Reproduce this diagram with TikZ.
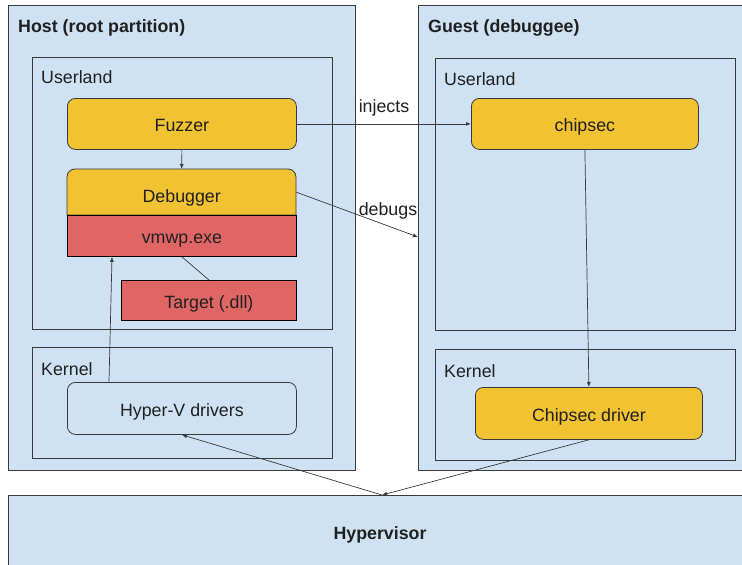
\documentclass[tikz,border=0pt]{standalone}
\usepackage{fontspec}
\setmainfont{Liberation Sans}
\usetikzlibrary{arrows.meta}
\definecolor{lb}{HTML}{CFE2F3}
\definecolor{yl}{HTML}{F1C232}
\definecolor{rd}{HTML}{E06666}
\definecolor{bd}{HTML}{3A3A3A}
\definecolor{tx}{HTML}{202020}
\begin{document}
\begin{tikzpicture}[x=1pt,y=-1pt,
  every node/.style={font=\fontsize{17.8}{21}\selectfont, text=tx, inner sep=0pt, text height=15.2pt, text depth=0pt},
  region/.style={draw=bd, fill=lb, line width=0.8pt, anchor=north west},
  ybox/.style={draw=bd, fill=yl, line width=0.8pt, rounded corners=8pt, anchor=north west},
  rbox/.style={draw=black, fill=rd, line width=0.8pt, anchor=north west},
  bbox/.style={draw=bd, fill=lb, line width=0.8pt, rounded corners=8pt, anchor=north west},
  lbl/.style={anchor=west},
  arr/.style={draw=bd, line width=0.7pt, -{Latex[length=5pt,width=4pt]}},
  conn/.style={draw=bd, line width=0.7pt}]
\useasboundingbox (0,0) rectangle (742,565);
\clip (0,0) rectangle (742,565);
\fill[white] (0,0) rectangle (742,565);
% host
\node[region, minimum width=347pt, minimum height=465pt] (host) at (8,5) {};
\node[lbl] (hostt) at (18,25) {\bfseries Host (root partition)};
\node[region, minimum width=300pt, minimum height=272pt] (hu) at (32,57) {};
\node[lbl] (hul) at (41,76) {Userland};
\node[region, minimum width=300pt, minimum height=111pt] (hk) at (32,347) {};
\node[lbl] (hkl) at (41,368) {Kernel};
% guest
\node[region, minimum width=340pt, minimum height=465pt] (guest) at (418,5) {};
\node[lbl] (guestt) at (428,25) {\bfseries Guest (debuggee)};
\node[region, minimum width=300pt, minimum height=272pt] (gu) at (435,58) {};
\node[lbl] (gul) at (444,78) {Userland};
\node[region, minimum width=300pt, minimum height=111pt] (gk) at (435,349) {};
\node[lbl] (gkl) at (444,370) {Kernel};
% hypervisor
\node[region, minimum width=744pt, minimum height=74pt] (hyp) at (8,495) {};
\node (hypt) at (380,532) {\bfseries Hypervisor};
% host boxes
\node[ybox, minimum width=229pt, minimum height=51pt] (fuzz) at (67,98) {Fuzzer};
\draw[draw=bd, fill=yl, line width=0.8pt] (67,215) [rounded corners=8pt]-- (67,169) -- (296,169) [sharp corners]-- (296,215) -- cycle;
\node[anchor=north west, minimum width=229pt, minimum height=46pt] (dbg) at (67,169) {};
\node (dbgt) at ([yshift=-2.5pt]dbg.center) {Debugger};
\node[rbox, minimum width=229pt, minimum height=41pt] (vmwp) at (67,215) {vmwp.exe};
\node[rbox, minimum width=175pt, minimum height=40pt] (tgt) at (121,280) {Target (.dll)};
\node[bbox, minimum width=229pt, minimum height=52pt] (hv) at (67,382) {Hyper-V drivers};
% guest boxes
\node[ybox, minimum width=227pt, minimum height=51pt] (chip) at (471,98) {chipsec};
\node[ybox, minimum width=227pt, minimum height=52pt] (drv) at (475,387) {Chipsec driver};
% connectors
\coordinate (dbgend) at (418,237);
\coordinate (hpt) at (382,495);
\draw[arr] (fuzz.south) -- (dbg.north);
\draw[arr] (fuzz.east) -- (chip.west);
\node (inj) at (384,105) {injects};
\draw[arr] (dbg.east) -- (dbgend);
\node (dbgs) at (388,208) {debugs};
\draw[conn] (vmwp.south) -- (tgt.north);
\draw[arr] (hv.north -| 109,0) -- (vmwp.south -| 112,0);
\draw[arr] (chip.south) -- (drv.north);
\draw[arr] (drv.south) -- (hpt);
\draw[arr] (hpt) -- (hv.south);
\end{tikzpicture}
\end{document}
